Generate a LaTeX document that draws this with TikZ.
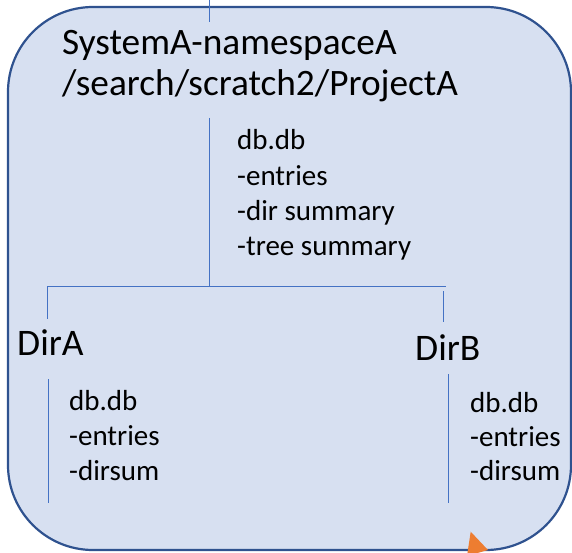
\documentclass[tikz,border=0pt]{standalone}
\usepackage{fontspec}
\setmainfont{Carlito}
\definecolor{boxfill}{HTML}{D7E0F1}
\definecolor{boxedge}{HTML}{2F528F}
\definecolor{linkblue}{HTML}{4472C4}
\definecolor{tiporange}{HTML}{ED7D31}
\begin{document}
\begin{tikzpicture}[x=1pt,y=-1pt,
    txt/.style={anchor=base west,inner sep=0pt,text=black},
    title/.style={txt,font=\fontsize{37.3}{44}\selectfont},
    dirlabel/.style={txt,font=\fontsize{37.5}{42}\selectfont},
    note/.style={txt,font=\fontsize{29}{35}\selectfont},
    link/.style={draw=linkblue,line width=1pt}]
  \useasboundingbox (0,0) rectangle (572,553);

  % project container
  \draw[boxedge,fill=boxfill,line width=2.2pt,rounded corners=85pt]
    (8,7) rectangle (571,550);
  \fill[tiporange] (470.7,531.7) -- (488,550) -- (467,556) -- cycle;

  % project name
  \node[title] (sys)  at (62,55) {SystemA-namespaceA};
  \node[title] (path) at (62,96) {/search/scratch2/ProjectA};

  % project database notes
  \node[note] (pdb)   at (237,150) {db.db};
  \node[note] (pent)  at (237,186) {-entries};
  \node[note] (pdir)  at (237,220) {-dir summary};
  \node[note] (ptree) at (237,255) {-tree summary};

  % directories
  \node[dirlabel] (dira) at (17,355) {DirA};
  \node[dirlabel] (dirb) at (415,360) {DirB};

  \node[note] (adb)  at (69,410) {db.db};
  \node[note] (aent) at (69,445) {-entries};
  \node[note] (asum) at (69,480) {-dirsum};

  \node[note] (bdb)  at (470,412) {db.db};
  \node[note] (bent) at (470,446) {-entries};
  \node[note] (bsum) at (470,480) {-dirsum};

  % tree connectors
  \coordinate (in0)    at (209,0);
  \coordinate (in1)    at (209,22);
  \coordinate (stem0)  at (209,118);
  \coordinate (stem1)  at (209,286);
  \coordinate (barL)   at (47.5,286);
  \coordinate (barR)   at (446,286);
  \coordinate (dropA)  at (47.5,319);
  \coordinate (dropB0) at (443,291);
  \coordinate (dropB1) at (443,322);
  \coordinate (aL0)    at (48,379);
  \coordinate (aL1)    at (48,503);
  \coordinate (bL0)    at (448,374);
  \coordinate (bL1)    at (448,503);

  \draw[link] (in0) -- (in1);
  \draw[link] (stem0) -- (stem1);
  \draw[link] (barL) -- (barR);
  \draw[link] (barL) -- (dropA);
  \draw[link] (dropB0) -- (dropB1);
  \draw[link] (aL0) -- (aL1);
  \draw[link] (bL0) -- (bL1);
\end{tikzpicture}
\end{document}
